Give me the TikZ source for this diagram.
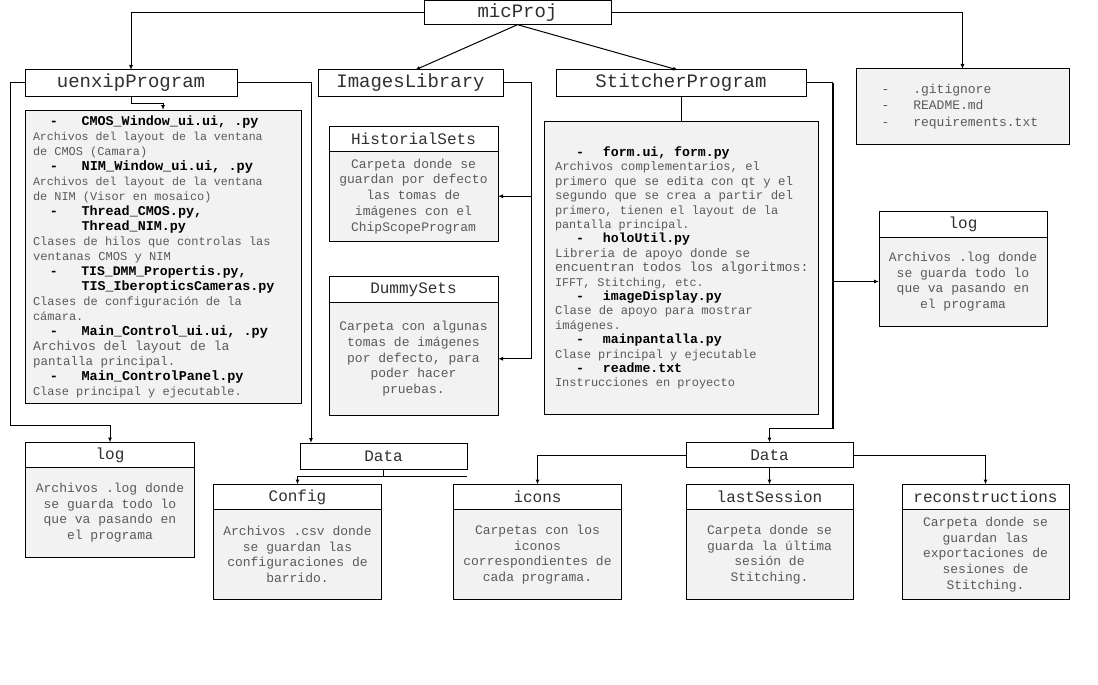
\documentclass[tikz,border=0pt]{standalone}
\usepackage{fontspec}
\setmainfont{Liberation Mono}[WordSpace={1,0,0}]
\usetikzlibrary{positioning,calc,arrows.meta}

\definecolor{boxfill}{HTML}{F2F2F2}
\definecolor{desc}{HTML}{5A5A5A}
\definecolor{ink}{HTML}{303030}
\newcommand{\monosize}[2]{\fontsize{#1}{#2}\selectfont\spaceskip=0.6em\relax}
\newcommand{\sz}[1]{\fontsize{#1}{\baselineskip}\selectfont\spaceskip=0.6em\relax}
\newcommand{\fitem}[2][13.4]{\hspace*{17pt}{\color{black}\bfseries\sz{#1}-\hspace*{23.5pt}#2}}
\newcommand{\fcont}[1]{\hspace*{48.5pt}{\color{black}\bfseries\sz{13.4}#1}}
\newcommand{\sitem}[1]{\hspace*{21pt}{\color{black}\bfseries\sz{13.2}-\hspace*{19pt}#1}}
\newcommand{\gitem}[1]{\hspace*{17.5pt}-\hspace*{24pt}#1}

\begin{document}
\begin{tikzpicture}[x=1pt,y=-1pt,
            title/.style={draw,line width=1pt,fill=white,outer sep=0pt,text=ink,minimum height=26pt,font=\monosize{19}{22}},
            head/.style={draw,line width=1pt,fill=white,outer sep=0pt,text=ink,minimum height=25pt,font=\monosize{16}{18}},
            body/.style={draw,line width=1pt,fill=boxfill,outer sep=0pt,text=desc,align=center,font=\monosize{13}{15.7}},
            listbox/.style={draw,line width=1pt,fill=boxfill,outer sep=0pt,text=desc,align=left,font=\monosize{12.2}{15}},
            arr/.style={line width=1pt,-{Latex[length=5pt,width=4pt]}},
            line/.style={line width=1pt},
        ]
            \useasboundingbox (0,0) rectangle (1098,685);

            % top level
            \node[title, minimum width=187pt, minimum height=24pt] (mic) at (517.5,12.5) {micProj};
            \node[title, minimum width=212pt] (uenxip) at (131,83) {uenxipProgram};
            \node[title, minimum width=185pt] (imglib) at (410.5,83) {ImagesLibrary};
            \node[title, minimum width=250pt] (stitch) at (681,83) {StitcherProgram};
            \node[listbox, text width=197pt, inner xsep=8pt, minimum height=75pt, font=\monosize{13}{16.7}] (git) at (962.5,106.5)
                {\gitem{.gitignore}\\ \gitem{README.md}\\ \gitem{requirements.txt}};

            % uenxipProgram
            \node[listbox, text width=260pt, inner xsep=8pt, minimum height=293pt] (uenxipC) at (163,256.5) {
                \fitem{CMOS\_Window\_ui.ui, .py}\\
                \sz{11.6}Archivos del layout de la ventana\\
                \sz{11.9}de CMOS (Camara)\\
                \fitem[13.6]{NIM\_Window\_ui.ui, .py}\\
                \sz{11.6}Archivos del layout de la ventana\\
                \sz{11.9}de NIM (Visor en mosaico)\\
                \fitem{Thread\_CMOS.py,}\\
                \fcont{Thread\_NIM.py}\\
                \sz{12}Clases de hilos que controlas las\\
                \sz{12.1}ventanas CMOS y NIM\\
                \fitem[13.1]{TIS\_DMM\_Propertis.py,}\\
                \fcont{TIS\_IberopticsCameras.py}\\
                \sz{12}Clases de configuración de la\\
                cámara.\\
                \fitem[13.5]{Main\_Control\_ui.ui, .py}\\
                \sz{13.1}Archivos del layout de la\\
                \sz{12.5}pantalla principal.\\
                \fitem[13.5]{Main\_ControlPanel.py}\\
                \sz{12}Clase principal y ejecutable.};
            \node[head, minimum width=169pt] (logLH) at (110,455) {log};
            \node[body, minimum width=169pt, minimum height=90pt, below=0pt of logLH] (logLB)
                {Archivos .log donde\\ se guarda todo lo\\ que va pasando en\\ el programa};
            \node[head, minimum width=167pt, minimum height=26pt] (dataL) at (383.5,456) {Data};
            \node[head, minimum width=168pt] (configH) at (297.5,497) {Config};
            \node[body, minimum width=168pt, minimum height=90pt, below=0pt of configH] (configB)
                {Archivos .csv donde\\ se guardan las\\ configuraciones de\\ barrido.};

            % ImagesLibrary
            \node[head, minimum width=169pt, minimum height=24.5pt] (histH) at (413.5,139) {HistorialSets};
            \node[body, minimum width=169pt, minimum height=90pt, below=0pt of histH] (histB)
                {Carpeta donde se\\ guardan por defecto\\ las tomas de\\ imágenes con el\\ ChipScopeProgram};
            \node[head, minimum width=169pt, minimum height=26pt] (dummyH) at (413.5,289.5) {DummySets};
            \node[body, minimum width=169pt, minimum height=112.5pt, below=0pt of dummyH] (dummyB)
                {Carpeta con algunas\\ tomas de imágenes\\ por defecto, para\\ poder hacer\\ pruebas.};

            % StitcherProgram
            \node[listbox, text width=252pt, inner xsep=11pt, minimum height=293pt, font=\monosize{12.2}{14.4}] (stitchC) at (681,268) {
                \sitem{form.ui, form.py}\\
                \sz{12.2}Archivos complementarios, el\\
                \sz{12.4}primero que se edita con qt y el\\
                segundo que se crea a partir del\\
                \sz{12}primero, tienen el layout de la\\
                \sz{11.8}pantalla principal.\\
                \sitem{holoUtil.py}\\
                \sz{12.5}Libreria de apoyo donde se\\
                \sz{13.2}\mbox{encuentran todos los algoritmos:}\\
                \sz{11.8}IFFT, Stitching, etc.\\
                \sitem{imageDisplay.py}\\
                \sz{12.2}Clase de apoyo para mostrar\\
                imágenes.\\
                \sitem{mainpantalla.py}\\
                \sz{12}Clase principal y ejecutable\\
                \sitem{readme.txt}\\
                \sz{12}Instrucciones en proyecto};
            \node[head, minimum width=168pt, minimum height=26pt] (logRH) at (963,224) {log};
            \node[body, minimum width=168pt, minimum height=89pt, below=0pt of logRH] (logRB)
                {Archivos .log donde\\ se guarda todo lo\\ que va pasando en\\ el programa};
            \node[head, minimum width=167pt, minimum height=25pt] (dataR) at (769.5,455) {Data};
            \node[head, minimum width=168pt] (iconsH) at (537.5,497) {icons};
            \node[body, minimum width=168pt, minimum height=90pt, below=0pt of iconsH] (iconsB)
                {Carpetas con los\\ iconos\\ correspondientes de\\ cada programa.};
            \node[head, minimum width=167pt] (lastH) at (769.5,497) {lastSession};
            \node[body, minimum width=167pt, minimum height=90pt, below=0pt of lastH] (lastB)
                {Carpeta donde se\\ guarda la última\\ sesión de\\ Stitching.};
            \node[head, minimum width=167pt] (recH) at (985.5,497) {reconstructions};
            \node[body, minimum width=167pt, minimum height=90pt, below=0pt of recH] (recB)
                {Carpeta donde se\\ guardan las\\ exportaciones de\\ sesiones de\\ Stitching.};

            % connectors
            \draw[arr] (mic.west) -| (uenxip.north);
            \draw[arr] (mic.east) -| (git.north);
            \draw[arr] (mic.south) -- ($(imglib.north)+(4.5,0)$);
            \draw[arr] (mic.south) -- ($(stitch.north)+(-3,0)$);

            \draw[arr] (uenxip.west) -| ++(-15,342) -| (logLH.north);
            \draw[arr] (uenxip.east) -| ($(dataL.north west)+(11,0)$);
            \draw[arr] (uenxip.south) -- ++(0,7) -| (uenxipC.north);
            \draw[arr] (dataL.south) -- ++(0,7) -| (configH.north);
            \draw[line] ($(dataL.south)+(0,7)$) -- ($(dataL.south east)+(0,7)$);

            \coordinate (libbus) at ($(imglib.east)+(28,0)$);
            \draw[arr] (imglib.east) -- (libbus) |- (dummyB.east);
            \draw[arr] (libbus |- histB.east) -- (histB.east);

            \coordinate (stbus) at ($(stitch.east)+(27,0)$);
            \coordinate (stturn) at ($(stbus |- dataR.north)+(0,-14)$);
            \draw[line] (stitch.south) -- (stitchC.north);
            \draw[line] (stitch.east) -- (stbus);
            \draw[line width=1.8pt] (stbus) -- (stturn);
            \draw[arr] (stturn) -| (dataR.north);
            \draw[arr] (stbus |- logRB.west) -- (logRB.west);
            \draw[arr] (dataR.south) -- (lastH.north);
            \draw[arr] (dataR.west) -| (iconsH.north);
            \draw[arr] (dataR.east) -| (recH.north);
        \end{tikzpicture}
\end{document}
